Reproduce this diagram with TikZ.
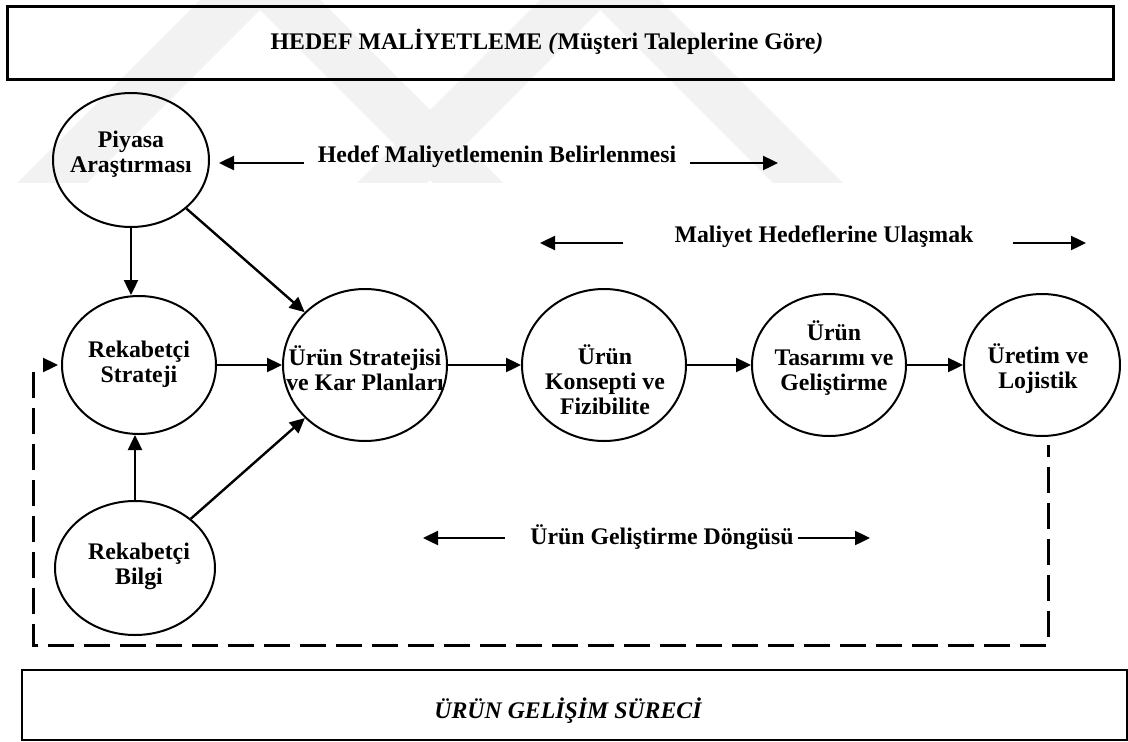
\documentclass[tikz,border=0pt]{standalone}
\usepackage{fontspec}
\setmainfont{Liberation Serif}
\usetikzlibrary{arrows.meta,shapes.geometric}

\tikzset{
  stage/.style={draw, ellipse, line width=2pt, inner sep=0pt},
  stagetext/.style={align=center, inner sep=0pt,
    font=\fontsize{23.8}{25}\selectfont\bfseries},
  flowlabel/.style={inner sep=0pt, font=\fontsize{23.8}{25}\selectfont\bfseries},
  conn/.style={line width=2.4pt, -{Triangle[length=15pt,width=14pt]}},
  feedback/.style={line width=3pt, dash pattern=on 26pt off 10pt, dash phase=14pt},
  frame/.style={draw, inner sep=0pt},
  wmband/.style={fill=black!5, draw=none}
}

\begin{document}
\begin{tikzpicture}[x=1pt,y=-1pt]
\useasboundingbox (0,0) rectangle (1128,742);

% faint background emblem
\begin{scope}
  \clip (0,0) rectangle (1128,182);
  \fill[wmband] (260,-60) -- (15,185) -- (85,185) -- (260,10) -- (435,185) -- (505,185) -- cycle;
  \fill[wmband] (600,-60) -- (355,185) -- (425,185) -- (600,10) -- (775,185) -- (845,185) -- cycle;
\end{scope}

% header and footer frames
\node[frame, line width=3pt, minimum width=1106pt, minimum height=73pt] (hdr) at (560,42.5) {};
\node[flowlabel] (hdrtxt) at (547,42)
  {HEDEF MALİYETLEME \textit{(}Müşteri Taleplerine Göre\textit{)}};

\node[frame, line width=2.2pt, minimum width=1105pt, minimum height=70pt] (ftr) at (574.5,705) {};
\node[flowlabel, font=\fontsize{23.8}{25}\selectfont\bfseries\itshape] (ftrtxt) at (568,711)
  {ÜRÜN GELİŞİM SÜRECİ};

% process stages
\node[stage, minimum width=156pt, minimum height=134pt] (p) at (131,160) {};
\node[stage, minimum width=154pt, minimum height=138pt] (s) at (139,365) {};
\node[stage, minimum width=160pt, minimum height=134pt] (b) at (135,568) {};
\node[stage, minimum width=164pt, minimum height=152pt] (k) at (365,365) {};
\node[stage, minimum width=164pt, minimum height=152pt] (c) at (604,365) {};
\node[stage, minimum width=154pt, minimum height=142pt] (t) at (829,365) {};
\node[stage, minimum width=156pt, minimum height=142pt] (u) at (1042,365) {};

\node[stagetext] (p-t) at (131,154) {Piyasa\\Araştırması};
\node[stagetext] (s-t) at (139,364) {Rekabetçi\\Strateji};
\node[stagetext] (b-t) at (139,566) {Rekabetçi\\Bilgi};
\node[stagetext] (k-t) at (365,368.5) {Ürün Stratejisi\\ve Kar Planları};
\node[stagetext] (c-t) at (605,379.5) {Ürün\\Konsepti ve\\Fizibilite};
\node[stagetext] (t-t) at (834,358.5) {Ürün\\Tasarımı ve\\Geliştirme};
\node[stagetext] (u-t) at (1038,369) {Üretim ve\\Lojistik};

% flow between stages
\draw[conn] (p.south) -- (p.south |- s.north);
\draw[conn] (b.north) -- (b.north |- s.south);
\draw[conn] (p) -- (k);
\draw[conn] (b) -- (k);
\draw[conn] (s) -- (k);
\draw[conn] (k) -- (c);
\draw[conn] (c) -- (t);
\draw[conn] (t) -- (u);

% feedback loop back to the competitive strategy
\coordinate (fb1) at (1048,645);
\coordinate (fb2) at (33,645);
\coordinate (fb3) at (33,371);
\coordinate (fb4) at (43,365);
\draw[feedback] ([xshift=6pt,yshift=-8pt]u.south) -- (fb1) -- (fb2) -- (fb3);
\draw[conn, shorten >=3pt] (fb4) -- (s.west);

% phase labels with their span arrows
\node[flowlabel] (h1) at (497,157) {Hedef Maliyetlemenin Belirlenmesi};
\coordinate (h1l) at (219,163);
\coordinate (h1r) at (778,163);
\draw[conn] ([xshift=-14pt]h1.west |- h1l) -- (h1l);
\draw[conn] ([xshift=14pt]h1.east |- h1r) -- (h1r);

\node[flowlabel] (h2) at (824,237) {Maliyet Hedeflerine Ulaşmak};
\coordinate (h2l) at (540,243);
\coordinate (h2r) at (1086,243);
\draw[conn] ([xshift=-51pt]h2.west |- h2l) -- (h2l);
\draw[conn] ([xshift=39pt]h2.east |- h2r) -- (h2r);

\node[flowlabel] (h3) at (662,537) {Ürün Geliştirme Döngüsü};
\coordinate (h3l) at (423,538);
\coordinate (h3r) at (870,538);
\draw[conn] ([xshift=-25pt]h3.west |- h3l) -- (h3l);
\draw[conn] ([xshift=4pt]h3.east |- h3r) -- (h3r);
\end{tikzpicture}
\end{document}
